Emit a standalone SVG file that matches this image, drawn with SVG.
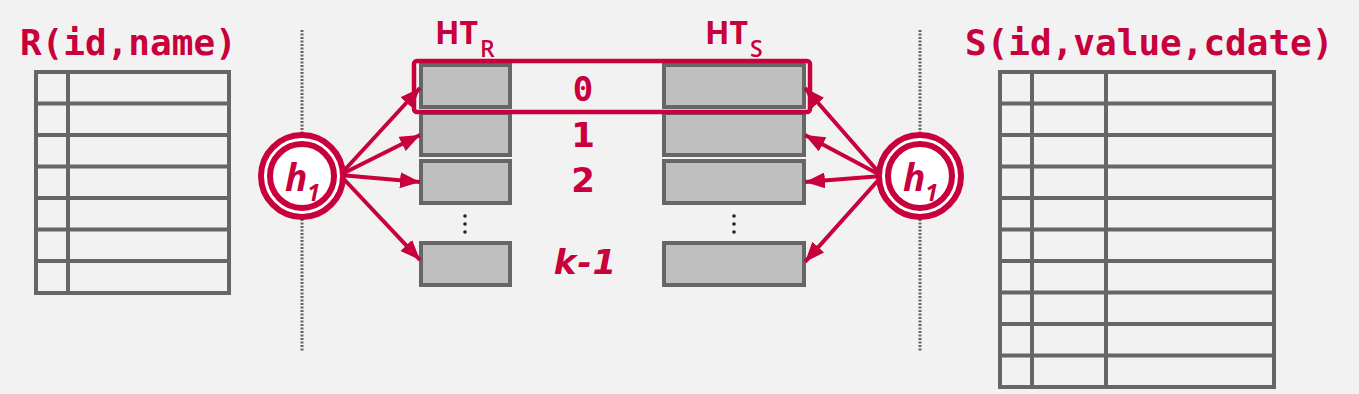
<svg xmlns="http://www.w3.org/2000/svg" width="1359" height="394" viewBox="0 0 1359 394">
<style>
.bg{fill:#F2F2F2}
.tbl{fill:none;stroke:#666;stroke-width:4;stroke-linecap:square}
.bucket{fill:#BFBFBF;stroke:#666;stroke-width:4}
.sep{stroke:#666;stroke-width:3;stroke-dasharray:2,1.5}
.title{font-family:"DejaVu Sans Mono","Liberation Mono",monospace;font-weight:bold;font-size:36px;fill:#C8003C}
.num{font-family:"DejaVu Sans","Open Sans",sans-serif;font-weight:bold;font-size:34px;fill:#C8003C;text-anchor:middle}
.mono{font-family:"DejaVu Sans Mono","Liberation Mono",monospace;font-weight:bold;font-size:34px;fill:#C8003C;text-anchor:middle}
.ht{font-family:"Open Sans","DejaVu Sans",sans-serif;font-weight:bold;font-size:32px;fill:#C8003C}
.sub{font-size:23px;font-weight:600}
.hash circle{fill:#fff;stroke:#C8003C;stroke-width:6}
.htxt{font-family:"Open Sans","DejaVu Sans",sans-serif;font-style:italic;font-weight:bold;font-size:37px;fill:#C8003C}
.conn line{stroke:#C8003C;stroke-width:4}
.dots circle{fill:#222}
</style>
<defs>
<marker id="ah" markerUnits="userSpaceOnUse" markerWidth="20" markerHeight="16" viewBox="0 0 20 16" refX="20" refY="8" orient="auto">
<path d="M0,0 L20,8 L0,16 z" fill="#C8003C"/>
</marker>
</defs>
<rect class="bg" x="0" y="0" width="1359" height="394"/>

<g id="separators">
<line class="sep" x1="302" y1="30" x2="302" y2="351"/>
<line class="sep" x1="920" y1="30" x2="920" y2="351"/>
</g>

<g id="table-R">
<text class="title" x="20" y="55">R(id,name)</text>
<rect class="tbl" x="36" y="72" width="193" height="221"/>
<path class="tbl" d="M68,72V293 M36,103.5H229 M36,135H229 M36,166.5H229 M36,198H229 M36,229.5H229 M36,261H229"/>
</g>

<g id="table-S">
<text class="title" x="965" y="55">S(id,value,cdate)</text>
<rect class="tbl" x="1000" y="72" width="274" height="315"/>
<path class="tbl" d="M1032,72V387 M1106,72V387 M1000,103.5H1274 M1000,135H1274 M1000,166.5H1274 M1000,198H1274 M1000,229.5H1274 M1000,261H1274 M1000,292.5H1274 M1000,324H1274 M1000,355.5H1274"/>
</g>

<g id="HT-R">
<text class="ht" x="435" y="44">HT<tspan class="sub" dx="2" dy="13">R</tspan></text>
<rect class="bucket" x="421" y="65" width="89" height="42"/>
<rect class="bucket" x="421" y="113" width="89" height="42"/>
<rect class="bucket" x="421" y="161" width="89" height="42"/>
<rect class="bucket" x="421" y="243" width="89" height="42"/>
<g class="dots"><circle cx="465" cy="216" r="1.8"/><circle cx="465" cy="224" r="1.8"/><circle cx="465" cy="232" r="1.8"/></g>
</g>

<g id="HT-S">
<text class="ht" x="705" y="44">HT<tspan class="sub" dx="2" dy="13">S</tspan></text>
<rect class="bucket" x="664" y="65" width="140" height="42"/>
<rect class="bucket" x="664" y="113" width="140" height="42"/>
<rect class="bucket" x="664" y="161" width="140" height="42"/>
<rect class="bucket" x="664" y="243" width="140" height="42"/>
<g class="dots"><circle cx="734" cy="216" r="1.8"/><circle cx="734" cy="224" r="1.8"/><circle cx="734" cy="232" r="1.8"/></g>
</g>

<g id="partition-labels">
<text class="mono" x="583" y="101">0</text>
<text class="num" x="583" y="147">1</text>
<text class="num" x="583" y="192">2</text>
<text class="num" x="585" y="274" font-style="italic">k<tspan dx="1">-</tspan><tspan dx="1">1</tspan></text>
</g>

<g id="highlight">
<rect x="414" y="61" width="396" height="51" rx="3" fill="none" stroke="#C8003C" stroke-width="4.5"/>
</g>

<g id="connectors" class="conn">
<line x1="340" y1="175" x2="420" y2="88" marker-end="url(#ah)"/>
<line x1="340" y1="175" x2="420" y2="135" marker-end="url(#ah)"/>
<line x1="340" y1="175" x2="420" y2="182" marker-end="url(#ah)"/>
<line x1="340" y1="175" x2="420" y2="260" marker-end="url(#ah)"/>
<line x1="882" y1="176" x2="805" y2="88" marker-end="url(#ah)"/>
<line x1="882" y1="176" x2="805" y2="135" marker-end="url(#ah)"/>
<line x1="882" y1="176" x2="805" y2="182" marker-end="url(#ah)"/>
<line x1="882" y1="176" x2="805" y2="262" marker-end="url(#ah)"/>
</g>

<g id="hash-left" class="hash">
<circle cx="302" cy="176" r="41"/>
<circle cx="302" cy="176" r="32"/>
<text class="htxt" x="285" y="191">h<tspan font-size="23" dy="10">1</tspan></text>
</g>

<g id="hash-right" class="hash">
<circle cx="920" cy="176" r="41"/>
<circle cx="920" cy="176" r="32"/>
<text class="htxt" x="903" y="191">h<tspan font-size="23" dy="10">1</tspan></text>
</g>
</svg>
